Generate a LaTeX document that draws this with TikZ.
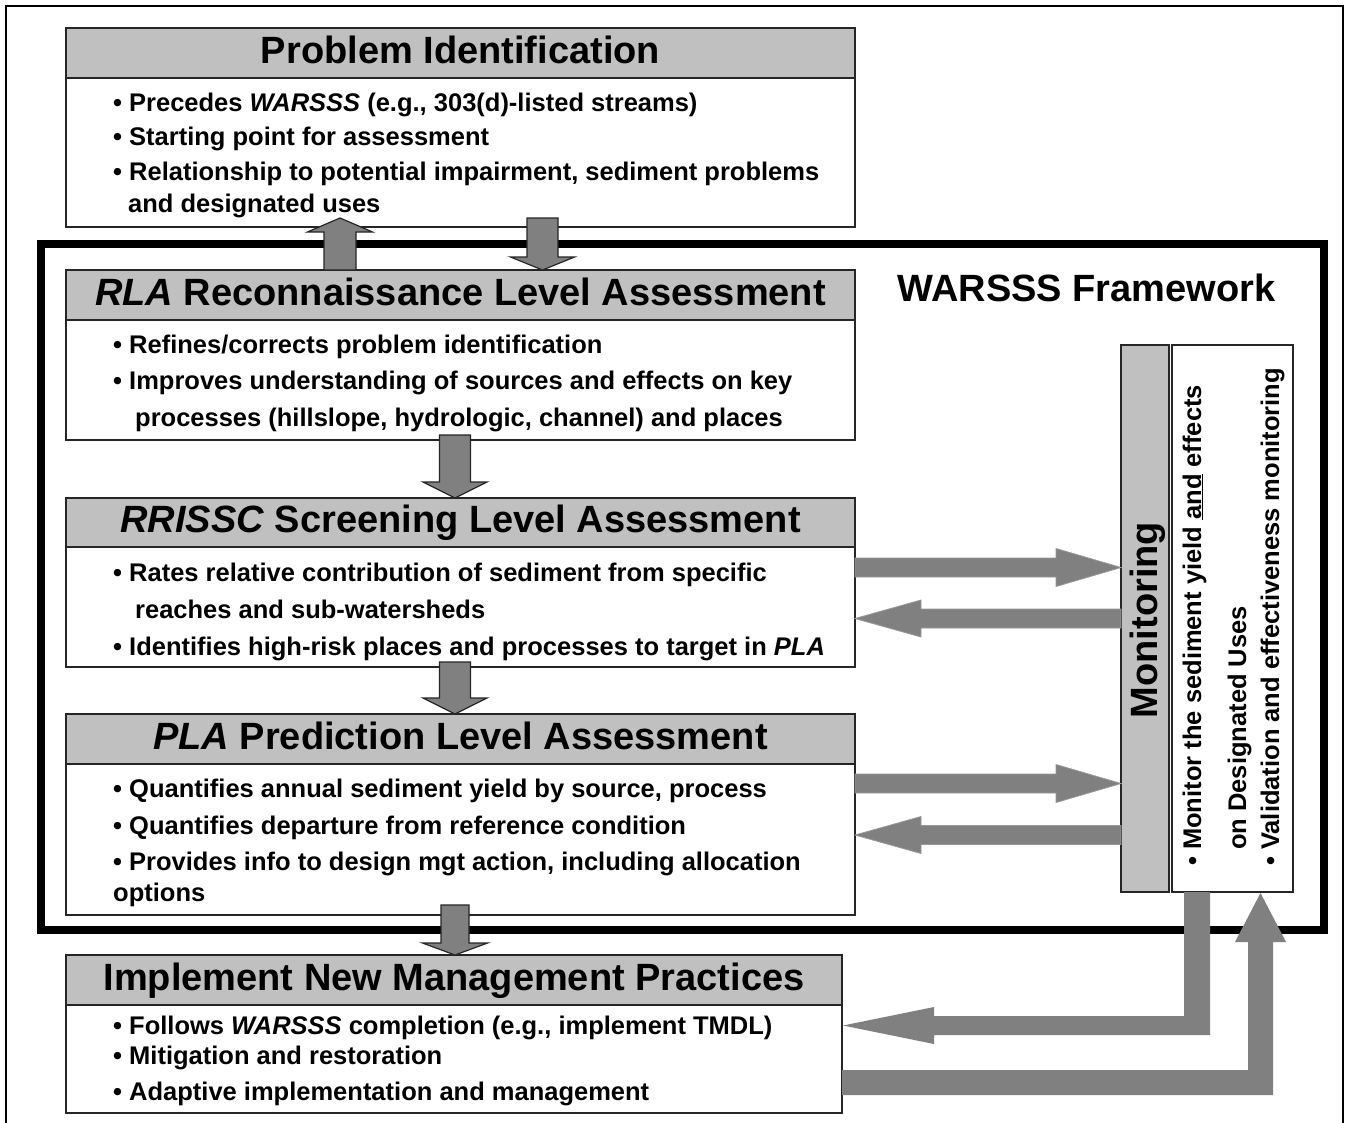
\documentclass[tikz,border=0pt]{standalone}
\usepackage{fontspec}
\setmainfont{Liberation Sans}
\usetikzlibrary{calc}
\definecolor{hdgray}{HTML}{C0C0C0}
\definecolor{argray}{HTML}{808080}
\definecolor{edge}{HTML}{262626}
\newcommand\hdfont{\fontsize{38}{40}\selectfont\bfseries}
\newcommand\bdfont{\fontsize{25.5}{28}\selectfont\bfseries}
% vertical block arrow: #2 start, #3 tip, #4 half shaft, #5 half head, #6 signed head offset (tip -> head base, canvas)
\newcommand\blkvert[6][]{%
  \path[#1] let \p1=(#2), \p2=(#3) in
   (\x2-#4,\y1) -- (\x2-#4,{\y2+(#6)}) -- (\x2-#5,{\y2+(#6)}) -- (\x2,\y2)
   -- (\x2+#5,{\y2+(#6)}) -- (\x2+#4,{\y2+(#6)}) -- (\x2+#4,\y1) -- cycle;}
% horizontal block arrow
\newcommand\blkhorz[6][]{%
  \path[#1] let \p1=(#2), \p2=(#3) in
   (\x1,\y2-#4) -- ({\x2+(#6)},\y2-#4) -- ({\x2+(#6)},\y2-#5) -- (\x2,\y2)
   -- ({\x2+(#6)},\y2+#5) -- ({\x2+(#6)},\y2+#4) -- (\x1,\y2+#4) -- cycle;}
\tikzset{
  hdbox/.style={draw=edge, line width=1.6pt, fill=hdgray, inner sep=0pt, outer sep=0pt,
     anchor=north west, text height=27.5pt, text depth=7pt, font=\hdfont},
  bdbox/.style={draw=edge, line width=1.2pt, fill=white, inner sep=0pt, outer sep=0pt, anchor=north west},
  line/.style={anchor=base west, inner sep=0pt, font=\bdfont},
  vline/.style={anchor=base west, inner sep=0pt, font=\bdfont, rotate=90},
  varrow/.style={fill=argray, draw=edge, line width=1.2pt},
  harrow/.style={fill=argray, draw=argray!80!white, line width=0.8pt},
  larrow/.style={fill=argray},
}
\begin{document}
\begin{tikzpicture}[x=1pt, y=-1pt]
\useasboundingbox[fill=white] (0,0) rectangle (1351,1122);
% outer thin frame
\draw[line width=2pt] (6,1130) -- (6,6) -- (1343,6) -- (1343,1130);
% WARSSS framework frame
\draw[line width=8pt] (41,244) rectangle (1324,929.5);
\node[anchor=base, inner sep=0pt, font=\fontsize{38}{40}\selectfont\bfseries] (fw) at (1086.5,301) {WARSSS Framework};

% boxes
\node[hdbox, minimum width=789pt, minimum height=50pt] (pih) at (66,28) {Problem Identification};
\node[bdbox, minimum width=789pt, minimum height=149pt] (pib) at (66,78) {};
\node[hdbox, minimum width=789pt, minimum height=50pt] (rlah) at (66,270) {\textit{RLA} Reconnaissance Level Assessment};
\node[bdbox, minimum width=789pt, minimum height=120pt] (rlab) at (66,320) {};
\node[hdbox, minimum width=789pt, minimum height=49pt] (rrh) at (66,498) {\textit{RRISSC} Screening Level Assessment};
\node[bdbox, minimum width=789pt, minimum height=120pt] (rrb) at (66,547) {};
\node[hdbox, minimum width=789pt, minimum height=50pt] (plah) at (66,714) {\textit{PLA} Prediction Level Assessment};
\node[bdbox, minimum width=789pt, minimum height=151pt] (plab) at (66,764) {};
\node[hdbox, minimum width=776pt, minimum height=50pt] (imh) at (66,955) {Implement New Management Practices};
\node[bdbox, minimum width=776pt, minimum height=108pt] (imb) at (66,1005) {};
\node[hdbox, minimum width=48pt, minimum height=547pt] (monh) at (1121,345) {};
\node[bdbox, minimum width=121pt, minimum height=547pt] (monb) at (1172,345) {};

% body texts
\node[line] (p1) at (113,111) {\textbullet\ Precedes \textit{WARSSS} (e.g., 303(d)-listed streams)};
\node[line] (p2) at (113,145.5) {\textbullet\ Starting point for assessment};
\node[line] (p3) at (113,180) {\textbullet\ Relationship to potential impairment, sediment problems};
\node[line] (p4) at (128,212) {and designated uses};

\node[line] (r1) at (113,353) {\textbullet\ Refines/corrects problem identification};
\node[line] (r2) at (113,389) {\textbullet\ Improves understanding of sources and effects on key};
\node[line] (r3) at (135,426) {processes (hillslope, hydrologic, channel) and places};

\node[line] (s1) at (113,581) {\textbullet\ Rates relative contribution of sediment from specific};
\node[line] (s2) at (135,618) {reaches and sub-watersheds};
\node[line] (s3) at (113,655) {\textbullet\ Identifies high-risk places and processes to target in \textit{PLA}};

\node[line] (q1) at (113,797) {\textbullet\ Quantifies annual sediment yield by source, process};
\node[line] (q2) at (113,834) {\textbullet\ Quantifies departure from reference condition};
\node[line] (q3) at (113,870) {\textbullet\ Provides info to design mgt action, including allocation};
\node[line] (q4) at (113,901) {options};

\node[line] (i1) at (113,1034) {\textbullet\ Follows \textit{WARSSS} completion (e.g., implement TMDL)};
\node[line] (i2) at (113,1064) {\textbullet\ Mitigation and restoration};
\node[line] (i3) at (113,1100) {\textbullet\ Adaptive implementation and management};

% monitoring texts
\node[anchor=base, inner sep=0pt, rotate=90, font=\hdfont] (montxt) at (1157,620) {Monitoring};
\node[vline] (m1) at (1201,866) {\textbullet\ Monitor the sediment yield \underline{and} effects};
\node[vline] (m2) at (1246,850) {on Designated Uses};
\node[vline] (m3) at (1279,866) {\textbullet\ Validation and effectiveness monitoring};

% arrow end points
\coordinate (a1s) at ($(rlah.north)+(-120.5,0)$);
\coordinate (a1e) at ($(pib.south)+(-120.5,-9)$);
\coordinate (a2s) at ($(pib.south)+(82,-9)$);
\coordinate (a2e) at ($(rlah.north)+(82,0)$);
\coordinate (a3s) at ($(rlab.south)+(-5.5,-5)$);
\coordinate (a3e) at ($(rrh.north)+(-5.5,0)$);
\coordinate (a4s) at ($(rrb.south)+(-5.5,-5)$);
\coordinate (a4e) at ($(plah.north)+(-5.5,0)$);
\coordinate (a5s) at ($(plab.south)+(-5.5,-10)$);
\coordinate (a5e) at ($(imh.north)+(1,0)$);
\coordinate (a6s) at ($(rrb.east)+(0,-39.5)$);
\coordinate (a6e) at (monh.west |- a6s);
\coordinate (a7s) at (monh.west);
\coordinate (a7e) at (rrb.east |- monh.west);
\coordinate (a8s) at ($(plab.east)+(0,-56)$);
\coordinate (a8e) at (monh.west |- a8s);
\coordinate (a9s) at ($(monh.west)+(0,216.5)$);
\coordinate (a9e) at (plab.east |- a9s);
\coordinate (a10s) at ($(monb.south)+(-35.5,0)$);
\coordinate (a10e) at ($(imb.east)+(1,-33.5)$);
\coordinate (a11s) at ($(imb.east)+(0,23.5)$);
\coordinate (a11e) at ($(monb.south)+(28,1)$);

% vertical arrows
\blkvert[varrow]{a1s}{a1e}{16pt}{32.5pt}{-14pt}
\blkvert[varrow]{a2s}{a2e}{15.5pt}{32pt}{13pt}
\blkvert[varrow]{a3s}{a3e}{15.5pt}{32pt}{16pt}
\blkvert[varrow]{a4s}{a4e}{15.5pt}{32pt}{16pt}
\blkvert[varrow]{a5s}{a5e}{14pt}{32.5pt}{12pt}
% horizontal arrows
\blkhorz[harrow]{a6s}{a6e}{9.5pt}{19pt}{-65pt}
\blkhorz[harrow]{a7s}{a7e}{9.5pt}{18.5pt}{66pt}
\blkhorz[harrow]{a8s}{a8e}{9.5pt}{19pt}{-65pt}
\blkhorz[harrow]{a9s}{a9e}{9.5pt}{18.5pt}{66pt}
% bottom L-shaped arrows
\path[larrow] let \p1=(a10s), \p2=(a10e) in
  (\x1-13pt,\y1) -- (\x1+13pt,\y1) -- (\x1+13pt,\y2-9.5pt) -- (\x2+91pt,\y2-9.5pt)
  -- (\x2+91pt,\y2-18.5pt) -- (\x2,\y2) -- (\x2+91pt,\y2+18.5pt) -- (\x2+91pt,\y2+9.5pt)
  -- (\x1-13pt,\y2+9.5pt) -- cycle;
\path[larrow] let \p1=(a11s), \p2=(a11e) in
  (\x1,\y1+12.5pt) -- (\x2-12.5pt,\y1+12.5pt) -- (\x2-12.5pt,\y2-49pt) -- (\x2-25.5pt,\y2-49pt)
  -- (\x2,\y2) -- (\x2+25.5pt,\y2-49pt) -- (\x2+12.5pt,\y2-49pt) -- (\x2+12.5pt,\y1-12.5pt)
  -- (\x1,\y1-12.5pt) -- cycle;
\end{tikzpicture}
\end{document}
